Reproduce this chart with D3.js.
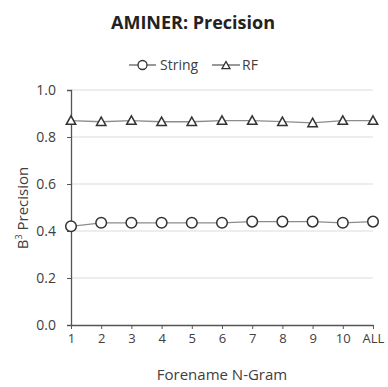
<!DOCTYPE html>
<html>
<head>
<meta charset="utf-8">
<script src="https://cdn.jsdelivr.net/npm/d3@7"></script>
<style>
  body { margin: 0; background: #fff; }
  text { font-family: "Open Sans", "Noto Sans", sans-serif; fill: #404040; }
</style>
</head>
<body>
<svg width="388" height="387"></svg>
<script>
var categories = ["1", "2", "3", "4", "5", "6", "7", "8", "9", "10", "ALL"];
var stringValues = [0.42, 0.435, 0.435, 0.435, 0.435, 0.435, 0.44, 0.44, 0.44, 0.435, 0.44];
var rfValues = [0.87, 0.865, 0.87, 0.865, 0.865, 0.87, 0.87, 0.865, 0.86, 0.87, 0.87];
var yTicks = [0, 0.2, 0.4, 0.6, 0.8, 1.0];

var svg = d3.select("svg");
var plotLeft = 71, plotRight = 373, plotTop = 90, plotBottom = 325;

var x = d3.scalePoint().domain(categories).range([plotLeft, plotRight]);
var y = d3.scaleLinear().domain([0, 1]).range([plotBottom, plotTop]);

// title
svg.append("text")
    .attr("x", 193).attr("y", 29)
    .attr("text-anchor", "middle")
    .style("font-size", "18px").style("font-weight", "bold")
    .style("fill", "#222")
    .text("AMINER: Precision");

// gridlines
svg.append("g").selectAll("line")
    .data(yTicks.filter(function (d) { return d > 0; }))
    .enter().append("line")
    .attr("x1", plotLeft).attr("x2", plotRight)
    .attr("y1", function (d) { return y(d); })
    .attr("y2", function (d) { return y(d); })
    .attr("stroke", "#dcdcdc").attr("stroke-width", 1.2);

// y axis
var yAxis = svg.append("g")
    .attr("transform", "translate(" + plotLeft + ",0)")
    .call(d3.axisLeft(y).tickValues(yTicks).tickFormat(d3.format(".1f")).tickSize(4).tickPadding(11));
yAxis.select(".domain").attr("stroke", "#555").attr("stroke-width", 1.3);
yAxis.selectAll(".tick line").attr("stroke", "#555");
yAxis.selectAll("text").style("font-size", "14px").style("fill", "#404040").style("font-family", "'Open Sans', sans-serif");

// x axis
var xAxis = svg.append("g")
    .attr("transform", "translate(0," + plotBottom + ")")
    .call(d3.axisBottom(x).tickSize(4).tickPadding(5).tickSizeOuter(0));
xAxis.select(".domain").attr("stroke", "#555").attr("stroke-width", 1.3);
xAxis.selectAll(".tick line").attr("stroke", "#555");
xAxis.selectAll("text").style("font-size", "13px").style("fill", "#404040").style("font-family", "'Open Sans', sans-serif");

// axis titles
svg.append("text")
    .attr("x", 222).attr("y", 380)
    .attr("text-anchor", "middle")
    .style("font-size", "15px")
    .text("Forename N-Gram");

var yl = svg.append("text")
    .attr("transform", "translate(28,208) rotate(-90)")
    .attr("text-anchor", "middle")
    .style("font-size", "15px");
yl.append("tspan").text("B");
yl.append("tspan").attr("dy", -6).style("font-size", "9px").text("3");
yl.append("tspan").attr("dy", 6).text(" Precision");

var line = d3.line()
    .x(function (d, i) { return x(categories[i]); })
    .y(function (d) { return y(d); });

function triPath(cx, cy, s) {
    return "M" + cx + "," + (cy - s) + "L" + (cx + s) + "," + (cy + s * 0.8) + "L" + (cx - s) + "," + (cy + s * 0.8) + "Z";
}

// String series
svg.append("path").datum(stringValues)
    .attr("d", line).attr("fill", "none")
    .attr("stroke", "#8c8c8c").attr("stroke-width", 1.3);
svg.append("g").selectAll("circle")
    .data(stringValues).enter().append("circle")
    .attr("cx", function (d, i) { return x(categories[i]); })
    .attr("cy", function (d) { return y(d); })
    .attr("r", 5.3)
    .attr("fill", "#fff").attr("stroke", "#333").attr("stroke-width", 1.5);

// RF series
svg.append("path").datum(rfValues)
    .attr("d", line).attr("fill", "none")
    .attr("stroke", "#8c8c8c").attr("stroke-width", 1.3);
svg.append("g").selectAll("path")
    .data(rfValues).enter().append("path")
    .attr("d", function (d, i) { return triPath(x(categories[i]), y(d), 4.7); })
    .attr("fill", "#fff").attr("stroke", "#333").attr("stroke-width", 1.5);

// legend
var lg = svg.append("g");
lg.append("line").attr("x1", 129).attr("x2", 156).attr("y1", 65).attr("y2", 65)
    .attr("stroke", "#555").attr("stroke-width", 1.2);
lg.append("circle").attr("cx", 142.5).attr("cy", 65).attr("r", 4.5)
    .attr("fill", "#fff").attr("stroke", "#333").attr("stroke-width", 1.3);
lg.append("text").attr("x", 160).attr("y", 70).style("font-size", "14px").text("String");
lg.append("line").attr("x1", 212).attr("x2", 240).attr("y1", 65).attr("y2", 65)
    .attr("stroke", "#555").attr("stroke-width", 1.2);
lg.append("path").attr("d", triPath(226, 65.5, 4))
    .attr("fill", "#fff").attr("stroke", "#333").attr("stroke-width", 1.3);
lg.append("text").attr("x", 242).attr("y", 70).style("font-size", "14px").text("RF");
</script>
</body>
</html>
